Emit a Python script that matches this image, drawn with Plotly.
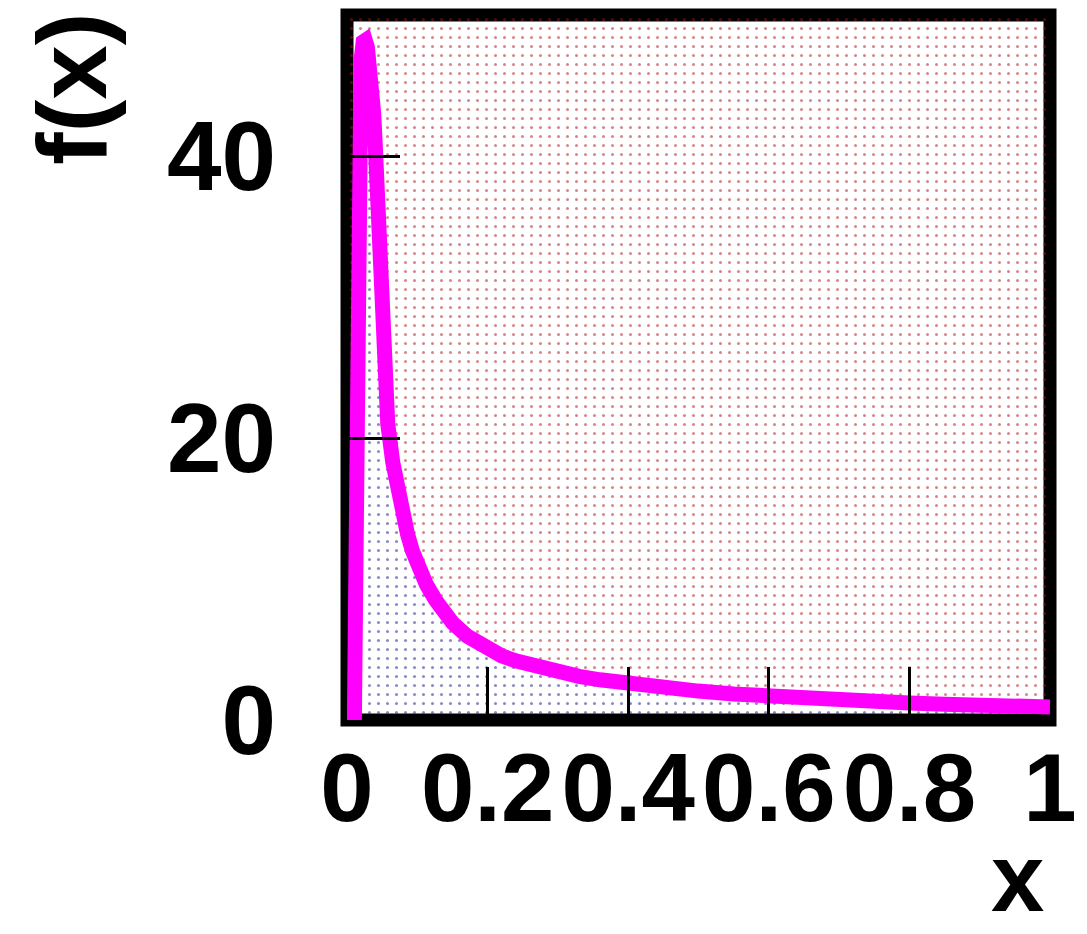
import plotly.graph_objects as go

# ---- data ----
curve_x = [0.0105, 0.011, 0.012, 0.013, 0.014, 0.015, 0.016, 0.018, 0.020, 0.023,
           0.026, 0.029, 0.032, 0.035, 0.038, 0.040, 0.042, 0.045, 0.048, 0.051,
           0.054, 0.058, 0.065, 0.073, 0.079, 0.086, 0.093, 0.102, 0.113, 0.126,
           0.138, 0.150, 0.171, 0.200, 0.220, 0.240, 0.260, 0.280, 0.300, 0.330,
           0.360, 0.400, 0.450, 0.500, 0.550, 0.600, 0.650, 0.700, 0.750, 0.800,
           0.850, 0.900, 0.950, 1.000]
curve_y = [0.0, 3.0, 9.0, 17.0, 25.0, 33.0, 39.0, 44.5, 46.8, 48.1,
           48.2, 47.7, 46.6, 45.0, 43.0, 41.0, 38.8, 35.0, 31.0, 27.5,
           24.5, 21.0, 18.3, 16.0, 14.6, 13.2, 12.0, 10.8, 9.6, 8.5,
           7.6, 6.9, 5.95, 4.95, 4.55, 4.2, 3.9, 3.65, 3.4, 3.1,
           2.85, 2.55, 2.28, 2.05, 1.85, 1.67, 1.53, 1.41, 1.3, 1.2,
           1.12, 1.04, 0.98, 0.92]

x_range = [0.0, 1.0]
y_range = [0.0, 50.0]
x_ticks = [0, 0.2, 0.4, 0.6, 0.8, 1]
y_ticks = [0, 20, 40]

x_title = "x"
y_title = "f(x)"

# regions above / below the curve
above_x = [x_range[0]] + curve_x + [x_range[1], x_range[0]]
above_y = [y_range[0]] + curve_y + [y_range[1], y_range[1]]
below_x = curve_x + [x_range[1]]
below_y = curve_y + [y_range[0]]

fig = go.Figure()

fig.add_trace(go.Scatter(
    x=above_x, y=above_y, mode="none", fill="toself",
    fillcolor="rgba(0,0,0,0)",
    fillpattern=dict(shape=".", fgcolor="#b01010", bgcolor="rgba(0,0,0,0)",
                     size=9, solidity=0.09),
    hoverinfo="skip", showlegend=False))

fig.add_trace(go.Scatter(
    x=below_x, y=below_y, mode="none", fill="toself",
    fillcolor="rgba(0,0,0,0)",
    fillpattern=dict(shape=".", fgcolor="#14148c", bgcolor="rgba(0,0,0,0)",
                     size=9, solidity=0.09),
    hoverinfo="skip", showlegend=False))

fig.add_trace(go.Scatter(
    x=curve_x, y=curve_y, mode="lines",
    line=dict(color="#ff00ff", width=15),
    showlegend=False))

# page body has an 8px margin; figure sized so it fills the 1087x934 window
OFF = 8
W, H = 1087 - OFF, 934 - OFF
L, T = 347 - OFF, 15 - OFF
PW, PH = 703, 705
R = W - L - PW
B = H - T - PH


def px_x(sx):
    return (sx - OFF - L) / PW


def px_y(sy):
    return (OFF + T + PH - sy) / PH


font_family = "Liberation Sans, Arial, sans-serif"

fig.update_layout(
    width=W, height=H,
    margin=dict(l=L, r=R, t=T, b=B),
    paper_bgcolor="white",
    plot_bgcolor="white",
    xaxis=dict(range=x_range, tickvals=x_ticks, ticks="inside", ticklen=53,
               tickwidth=3, tickcolor="black", showgrid=False, zeroline=False,
               showline=False, tickangle=0, ticklabelstandoff=4,
               tickfont=dict(family=font_family, size=96, color="black", weight="bold")),
    yaxis=dict(range=y_range, tickvals=y_ticks, ticks="inside", ticklen=53,
               tickwidth=3, tickcolor="black", showgrid=False, zeroline=False,
               showline=False, ticklabelstandoff=70,
               tickfont=dict(family=font_family, size=98, color="black", weight="bold")),
    shapes=[dict(type="rect", xref="paper", yref="paper", x0=0, x1=1, y0=0, y1=1,
                 line=dict(color="black", width=13), layer="below")],
    annotations=[
        dict(text=x_title, xref="paper", yref="paper", x=px_x(1046),
             y=px_y(933), xanchor="right", yanchor="bottom",
             showarrow=False,
             font=dict(family=font_family, size=96, color="black", weight="bold")),
        dict(text=y_title, xref="paper", yref="paper", x=px_x(72),
             y=px_y(11), xanchor="center", yanchor="top",
             textangle=-90, showarrow=False,
             font=dict(family=font_family, size=98, color="black", weight="bold")),
    ],
)

fig.write_html("out.html")
